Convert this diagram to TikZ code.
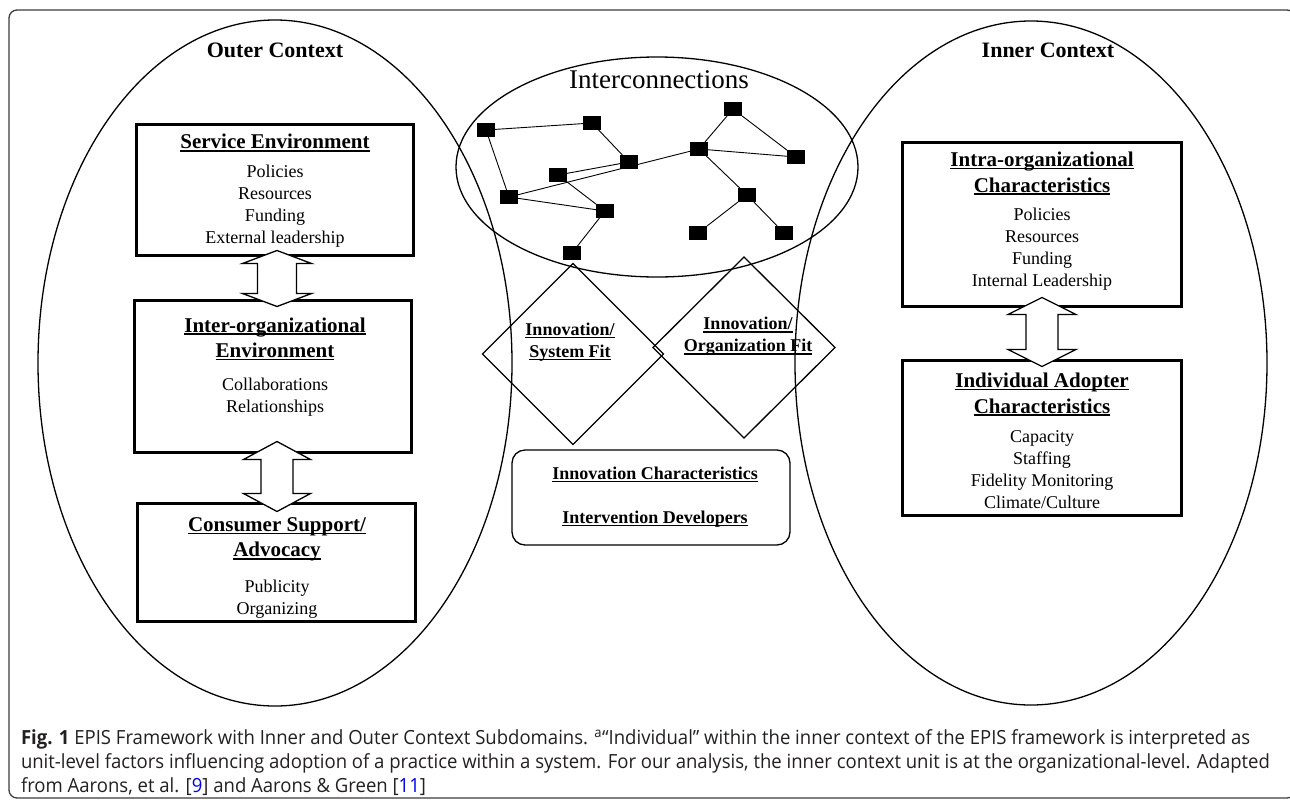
\documentclass[tikz,border=0pt]{standalone}
\usepackage{fontspec}
\setmainfont{Liberation Serif}
\newfontfamily\capfont[FakeStretch=0.95]{Open Sans}
\usetikzlibrary{shapes.geometric,calc}
\definecolor{framecol}{RGB}{60,60,60}
\definecolor{capgray}{RGB}{35,31,32}
\definecolor{linkblue}{RGB}{0,0,238}
\newsavebox\ulbox
\newcommand\ulx[1]{\sbox\ulbox{#1}\rlap{\rule[-2.8pt]{\wd\ulbox}{1.5pt}}\usebox\ulbox}
\newcommand\dblarrow[5]{%
  \draw[blockarrow] let \p1=#1, \p2=#2 in
    (\x1,\y1) -- (\x1+#3,\y1-#5) -- (\x1+#4,\y1-#5) -- (\x2+#4,\y2+#5) -- (\x2+#3,\y2+#5)
    -- (\x2,\y2) -- (\x2-#3,\y2+#5) -- (\x2-#4,\y2+#5) -- (\x1-#4,\y1-#5) -- (\x1-#3,\y1-#5) -- cycle;}
\begin{document}
\begin{tikzpicture}[x=1pt,y=-1pt,
  every node/.style={inner sep=0pt, outer sep=0pt},
  ctx/.style={ellipse, draw, line width=1.3pt},
  thickbox/.style={draw, line width=3.4pt},
  sq/.style={fill=black, minimum width=18pt, minimum height=14pt},
  link/.style={line width=0.9pt},
  fit/.style={diamond, draw, line width=1.3pt, aspect=1},
  blockarrow/.style={draw, line width=1.3pt, fill=white, line join=miter},
  head/.style={font=\fontsize{21}{25.5}\selectfont\bfseries, align=center},
  item/.style={font=\fontsize{18}{22}\selectfont, align=center},
  fittext/.style={font=\fontsize{18}{22}\selectfont\bfseries, align=center},
  title/.style={font=\fontsize{22}{26}\selectfont\bfseries}]
\useasboundingbox (0,0) rectangle (1290,801);
\draw[framecol, line width=1.3pt, rounded corners=8pt] (9,10) rectangle (1295,798);

% context ellipses
\node[ctx, minimum width=474pt, minimum height=686pt] (outer) at (275,363) {};
\node[ctx, minimum width=472pt, minimum height=684pt] (inner) at (1031,363) {};
\node[ctx, minimum width=402pt, minimum height=220pt] (net) at (657,167) {};

\node[title] (outert) at (275,50) {Outer Context};
\node[title] (innert) at (1048,50) {Inner Context};
\node[font=\fontsize{27}{30}\selectfont] (nett) at (659,80) {Interconnections};

% network
\node[sq] (n1) at (486,130) {};
\node[sq] (n2) at (592,123) {};
\node[sq] (n3) at (629,162) {};
\node[sq] (n4) at (558,175) {};
\node[sq] (n5) at (509,197) {};
\node[sq] (n6) at (605,211) {};
\node[sq] (n7) at (572,253) {};
\node[sq] (n8) at (733,109) {};
\node[sq] (n9) at (699,149) {};
\node[sq] (n10) at (796,157) {};
\node[sq] (n11) at (747,195) {};
\node[sq] (n12) at (698,233) {};
\node[sq] (n13) at (784,233) {};
\draw[link] (n1) -- (n2);
\draw[link] (n1) -- (n5);
\draw[link] (n2) -- (n3);
\draw[link] (n4) -- (n3);
\draw[link] (n4) -- (n6);
\draw[link] (n5) -- (n6);
\draw[link] (n5) -- (n9);
\draw[link] (n6) -- (n7);
\draw[link] (n9) -- (n8);
\draw[link] (n8) -- (n10);
\draw[link] (n9) -- (n10);
\draw[link] (n9) -- (n11);
\draw[link] (n11) -- (n12);
\draw[link] (n11) -- (n13);

% fit diamonds
\node[fit, minimum width=181pt, minimum height=181pt] (sysfit) at (573,354) {};
\node[fit, minimum width=182pt, minimum height=181pt] (orgfit) at (744,347.5) {};
\node[fittext] (sysfitt) at (570,342) {\ulx{Innovation/}\\\ulx{System Fit}};
\node[fittext] (orgfitt) at (748,336.5) {\ulx{Innovation/}\\\ulx{Organization Fit}};

% innovation box
\node[draw, line width=1.3pt, rounded corners=13pt, minimum width=278pt, minimum height=95pt] (innov) at (651,497.5) {};
\node[font=\fontsize{18}{44}\selectfont\bfseries, align=center] (innovt) at (655,497)
  {\ulx{Innovation Characteristics}\\\ulx{Intervention Developers}};

% outer context boxes
\node[thickbox, minimum width=277pt, minimum height=131pt] (svc) at (275,190) {};
\node[head] (svch) at (275,143) {\ulx{Service Environment}};
\node[item] (svci) at (275,206.5) {Policies\\Resources\\Funding\\External leadership};

\node[thickbox, minimum width=277pt, minimum height=152pt] (inter) at (273,376.5) {};
\node[head] (interh) at (275,339) {\ulx{Inter-organizational}\\\ulx{Environment}};
\node[item] (interi) at (275,397.5) {Collaborations\\Relationships};

\node[thickbox, minimum width=278pt, minimum height=118pt] (cons) at (276.5,562.5) {};
\node[head] (consh) at (277,539.5) {\ulx{Consumer Support/}\\\ulx{Advocacy}};
\node[item] (consi) at (277,599) {Publicity\\Organizing};

% inner context boxes
\node[thickbox, minimum width=279pt, minimum height=164pt] (intra) at (1042,224.5) {};
\node[head] (intrah) at (1042,173.5) {\ulx{Intra-organizational}\\\ulx{Characteristics}};
\node[item] (intrai) at (1042,249) {Policies\\Resources\\Funding\\Internal Leadership};

\node[thickbox, minimum width=279pt, minimum height=155pt] (indiv) at (1042,438) {};
\node[head] (indivh) at (1042,394.5) {\ulx{Individual Adopter}\\\ulx{Characteristics}};
\node[item] (indivi) at (1042,469.5) {Capacity\\Staffing\\Fidelity Monitoring\\Climate/Culture};

% block double arrows
\dblarrow{($(svc.south)+(2,-5)$)}{($(inter.north)+(4,6)$)}{34.5pt}{19.5pt}{13pt}
\dblarrow{($(inter.south)+(4,-11)$)}{($(cons.north)+(0.5,8)$)}{33.5pt}{16pt}{18pt}
\dblarrow{($(intra.south)+(0,-9)$)}{($(indiv.north)+(0,6)$)}{34pt}{16pt}{17pt}

% caption
\node[anchor=north west, align=left, text=capgray, font=\capfont\fontsize{19.5}{24}\selectfont] (cap) at (21,730)
{{\bfseries Fig. 1} EPIS Framework with Inner and Outer Context Subdomains. \textsuperscript{a}“Individual” within the inner context of the EPIS framework is interpreted as\\
unit-level factors influencing adoption of a practice within a system. For our analysis, the inner context unit is at the organizational-level. Adapted\\
from Aarons, et al. [{\color{linkblue}9}] and Aarons \& Green [{\color{linkblue}11}]};
\end{tikzpicture}
\end{document}
